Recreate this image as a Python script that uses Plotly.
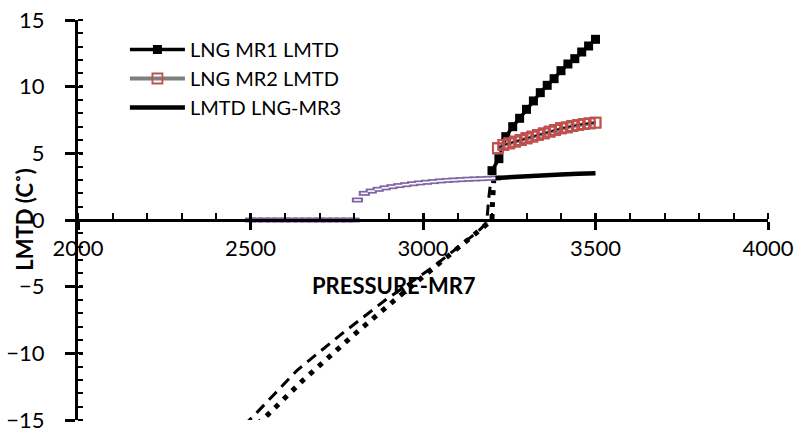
import plotly.graph_objects as go

# ---- data -------------------------------------------------------------
# LNG MR1 LMTD (black line, filled squares)
mr1_pressure = [3200, 3220, 3240, 3260, 3280, 3300, 3320, 3340,
                3360, 3380, 3400, 3420, 3440, 3460, 3480, 3500]
mr1_lmtd = [3.7, 4.6, 6.25, 7.0, 7.63, 8.3, 8.93, 9.55,
            10.1, 10.6, 11.2, 11.7, 12.1, 12.6, 13.05, 13.55]

# LNG MR2 LMTD (double line, open red squares)
mr2_pressure = [3217, 3233, 3250, 3267, 3283, 3300, 3317, 3333, 3350,
                3367, 3383, 3400, 3417, 3433, 3450, 3467, 3483, 3500]
mr2_lmtd = [5.38, 5.63, 5.75, 5.88, 6.0, 6.13, 6.25, 6.38, 6.5,
            6.63, 6.75, 6.88, 6.95, 7.05, 7.13, 7.2, 7.25, 7.3]

# LMTD LNG-MR3 (thick black line)
mr3_pressure = [3210, 3250, 3300, 3350, 3400, 3450, 3500]
mr3_lmtd = [3.15, 3.22, 3.29, 3.35, 3.41, 3.46, 3.51]

# low-pressure LMTD points (purple bars)
low_pressure = [2500, 2520, 2540, 2560, 2580, 2600, 2620, 2640, 2660, 2680,
                2700, 2720, 2740, 2760, 2780, 2800,
                2810, 2830, 2850, 2870, 2890, 2910, 2930, 2950, 2970, 2990,
                3010, 3030, 3050, 3070, 3090, 3110, 3130, 3150, 3170, 3190, 3210]
low_lmtd = [0, 0, 0, 0, 0, 0, 0, 0, 0, 0,
            0, 0, 0, 0, 0, 0,
            1.5, 2.0, 2.17, 2.3, 2.41, 2.5, 2.58, 2.65, 2.72, 2.78,
            2.83, 2.88, 2.93, 2.97, 3.0, 3.03, 3.06, 3.08, 3.1, 3.12, 3.14]

# negative-LMTD branches
dash_pressure = [2480, 2506, 2636, 2760, 2891, 3030, 3146, 3170, 3183, 3187, 3190, 3195]
dash_lmtd = [-15.4, -14.78, -11.25, -8.63, -6.0, -3.5, -1.13, -0.6, -0.2, 0.5, 1.5, 2.6]

dot_pressure = [2520, 2549, 2653, 2789, 2925, 3059, 3175, 3190, 3200, 3201, 3203, 3205]
dot_lmtd = [-15.3, -14.63, -12.0, -8.85, -5.85, -3.0, -0.6, -0.2, 0.0, 1.0, 2.0, 3.0]

x_range = [2000, 4000]
y_range = [-15, 15]

FONT = "Lato"
PURPLE = "#8064a2"
RED = "#c0504d"

fig = go.Figure()

fig.add_trace(go.Scatter(x=dash_pressure, y=dash_lmtd, mode="lines",
                         line=dict(color="black", width=3, dash="11px,7px"),
                         showlegend=False, hoverinfo="skip"))
fig.add_trace(go.Scatter(x=dot_pressure, y=dot_lmtd, mode="lines",
                         line=dict(color="black", width=5, dash="5px,7px"),
                         showlegend=False, hoverinfo="skip"))

# purple bar markers: thick purple dash with a white slit on top
fig.add_trace(go.Scatter(x=low_pressure, y=low_lmtd, mode="markers",
                         marker=dict(symbol="line-ew", size=8, color=PURPLE,
                                     line=dict(color=PURPLE, width=5)),
                         showlegend=False))
fig.add_trace(go.Scatter(x=low_pressure, y=low_lmtd, mode="markers",
                         marker=dict(symbol="line-ew", size=5, color="white",
                                     line=dict(color="white", width=1.6)),
                         showlegend=False, hoverinfo="skip"))

fig.add_trace(go.Scatter(x=mr3_pressure, y=mr3_lmtd, mode="lines",
                         name="LMTD LNG-MR3", legendrank=3,
                         line=dict(color="black", width=4.5)))

fig.add_trace(go.Scatter(x=mr1_pressure, y=mr1_lmtd, mode="lines+markers",
                         name="LNG MR1 LMTD", legendrank=1,
                         line=dict(color="black", width=3.5),
                         marker=dict(symbol="square", size=9, color="black")))

# MR2: grey outer line (legend entry), thin black core, red open squares on top
fig.add_trace(go.Scatter(x=mr2_pressure, y=mr2_lmtd, mode="lines+markers",
                         name="LNG MR2 LMTD", legendrank=2,
                         line=dict(color="#7f7f7f", width=4),
                         marker=dict(symbol="square-open", size=10, color=RED,
                                     line=dict(color=RED, width=1.8))))
fig.add_trace(go.Scatter(x=mr2_pressure, y=mr2_lmtd, mode="lines",
                         line=dict(color="black", width=1.3),
                         showlegend=False, hoverinfo="skip"))
fig.add_trace(go.Scatter(x=mr2_pressure, y=mr2_lmtd, mode="markers",
                         marker=dict(symbol="square-open", size=10, color=RED,
                                     line=dict(color=RED, width=1.8)),
                         showlegend=False, hoverinfo="skip"))

# helper trace for the overlay axes that draw the inner half of major ticks
fig.add_trace(go.Scatter(x=[None], y=[None], xaxis="x2", yaxis="y2",
                         showlegend=False, hoverinfo="skip"))

tick_font = dict(family=FONT, size=22, color="black")

fig.update_layout(
    width=798, height=428,
    margin=dict(l=78, r=30, t=20, b=8, autoexpand=False),
    paper_bgcolor="white", plot_bgcolor="white",
    font=dict(family=FONT, color="black"),
    showlegend=True,
    legend=dict(x=0.068, y=0.975, xanchor="left", yanchor="top",
                bgcolor="rgba(0,0,0,0)", font=dict(family=FONT, size=20, color="black"),
                itemwidth=55, tracegroupgap=0),
    xaxis=dict(range=x_range, dtick=500, anchor="free", position=0.5,
               showline=True, linecolor="black", linewidth=3,
               ticks="outside", ticklen=8, tickwidth=2.5, tickcolor="black",
               minor=dict(dtick=100, ticks="inside", ticklen=6, tickwidth=2, tickcolor="black"),
               showgrid=False, zeroline=False, tickfont=tick_font,
               ticklabelstandoff=0, ticklabeloverflow="allow", automargin=False),
    yaxis=dict(range=y_range, dtick=5, anchor="x", side="left",
               showline=True, linecolor="black", linewidth=3,
               ticks="outside", ticklen=10, tickwidth=2.5, tickcolor="black",
               minor=dict(dtick=1, ticks="inside", ticklen=5, tickwidth=2, tickcolor="black"),
               showgrid=False, zeroline=False, tickfont=tick_font,
               ticklabelstandoff=16, ticklabeloverflow="allow", automargin=False),
    xaxis2=dict(range=x_range, dtick=500, overlaying="x", anchor="free", position=0.5,
                side="bottom", ticks="inside", ticklen=7, tickwidth=2.5, tickcolor="black",
                showticklabels=False, showline=False, showgrid=False, zeroline=False,
                automargin=False),
    yaxis2=dict(range=y_range, dtick=5, overlaying="y", anchor="free", position=0,
                side="left", ticks="inside", ticklen=4, tickwidth=2.5, tickcolor="black",
                showticklabels=False, showline=False, showgrid=False, zeroline=False,
                automargin=False),
    annotations=[
        dict(text="<b>PRESSURE-MR7</b>", xref="paper", yref="paper",
             x=0.458, y=0.3375, xanchor="center", yanchor="middle", showarrow=False,
             font=dict(family=FONT, size=22, color="black")),
        dict(text="<b>LMTD (C˚)</b>", xref="paper", yref="paper",
             x=-0.077, y=0.503, xanchor="center", yanchor="middle", showarrow=False,
             textangle=-90, font=dict(family=FONT, size=22, color="black")),
    ],
)

fig.write_html("out.html")
